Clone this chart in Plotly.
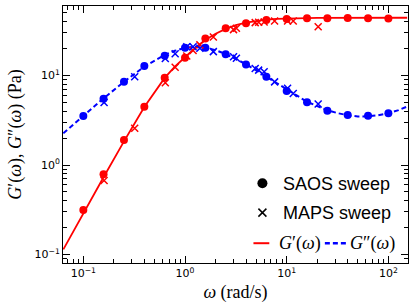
import plotly.graph_objects as go

# ---- data ----
omega_saos = [0.1, 0.158, 0.251, 0.398, 0.631, 1.0, 1.585, 2.512, 3.981, 6.31,
              10.0, 15.85, 25.12, 39.81, 63.1, 100.0]
gp_saos = [0.314, 0.787, 1.90, 4.48, 9.45, 15.8, 26.0, 33.7, 38.3, 41.7,
           42.8, 43.6, 43.6, 43.9, 43.6, 43.3]
gpp_saos = [3.53, 5.5, 8.53, 12.8, 16.6, 20.5, 20.5, 17.3, 13.3, 9.7,
            6.71, 5.02, 4.04, 3.62, 3.56, 3.78]

omega_maps = [0.16, 0.32, 0.64, 0.80, 1.04, 1.2, 1.4, 1.9, 3.0, 3.2,
              4.9, 5.3, 6.0, 7.6, 10.2, 11.6, 20.4]
gp_maps = [0.67, 2.57, 8.3, 12.4, 16.5, 19.0, 22.0, 27.0, 32.6, 33.7,
           39.0, 39.4, 39.7, 40.6, 40.6, 40.6, 35.1]
gpp_maps = [5.0, 9.7, 15.5, 17.5, 21.0, 21.0, 20.2, 18.5, 16.2, 15.6,
            12.0, 11.5, 11.0, 8.5, 7.2, 6.3, 4.8]

omega_fit = [0.0636, 0.1, 0.158, 0.251, 0.398, 0.631, 0.794, 1.0, 1.26, 1.58, 2.0,
             2.51, 3.16, 3.98, 5.01, 6.31, 7.94, 10.0, 12.6, 15.8, 20.0, 25.1,
             31.6, 39.8, 50.1, 63.1, 79.4, 100.0, 126.0, 153.0]
gp_fit = [0.114, 0.29, 0.73, 1.84, 4.45, 9.4, 12.6, 16.0, 20.4, 25.0, 29.3,
          33.2, 36.6, 39.0, 40.9, 42.1, 42.9, 43.4, 43.7, 43.9, 44.0, 44.1,
          44.2, 44.2, 44.2, 44.2, 44.2, 44.2, 44.2, 44.2]
gpp_fit = [2.26, 3.55, 5.55, 8.5, 12.6, 17.0, 18.9, 20.4, 21.0, 20.5, 19.2,
           17.4, 15.4, 13.4, 11.4, 9.7, 8.2, 6.9, 5.9, 5.1, 4.55, 4.1,
           3.8, 3.6, 3.48, 3.5, 3.6, 3.8, 4.1, 4.5]

x_major = [0.1, 1, 10, 100]
x_major_text = ["10<sup>\u22121</sup>", "10<sup>0</sup>", "10<sup>1</sup>", "10<sup>2</sup>"]
y_major = [0.1, 1, 10]
y_major_text = ["10<sup>\u22121</sup>", "10<sup>0</sup>", "10<sup>1</sup>"]

RED = "#ff0000"
BLUE = "#0000ff"

minor_x = [m * 10.0 ** e for e in range(-2, 3) for m in range(2, 10)]
minor_y = [m * 10.0 ** e for e in range(-2, 2) for m in range(2, 10)]

fig = go.Figure()

fig.add_trace(go.Scatter(x=omega_fit, y=gp_fit, mode="lines",
                         line=dict(color=RED, width=1.8)))
fig.add_trace(go.Scatter(x=omega_fit, y=gpp_fit, mode="lines",
                         line=dict(color=BLUE, width=2, dash="5px,3px")))
fig.add_trace(go.Scatter(x=omega_saos, y=gp_saos, mode="markers",
                         marker=dict(color=RED, size=8, symbol="circle")))
fig.add_trace(go.Scatter(x=omega_saos, y=gpp_saos, mode="markers",
                         marker=dict(color=BLUE, size=8, symbol="circle")))
fig.add_trace(go.Scatter(x=omega_maps, y=gp_maps, mode="markers",
                         marker=dict(color=RED, size=7, symbol="x-thin",
                                     line=dict(color=RED, width=1.5))))
fig.add_trace(go.Scatter(x=omega_maps, y=gpp_maps, mode="markers",
                         marker=dict(color=BLUE, size=7, symbol="x-thin",
                                     line=dict(color=BLUE, width=1.5))))

# ---- hand-built legend on an overlay axis (0..1 over the plot area) ----
fig.add_trace(go.Scatter(x=[0.578], y=[0.310], mode="markers", xaxis="x2", yaxis="y2",
                         marker=dict(color="black", size=10, symbol="circle")))
fig.add_trace(go.Scatter(x=[0.578], y=[0.196], mode="markers", xaxis="x2", yaxis="y2",
                         marker=dict(color="black", size=8, symbol="x-thin",
                                     line=dict(color="black", width=1.5))))
fig.add_trace(go.Scatter(x=[0.552, 0.598], y=[0.077, 0.077], mode="lines",
                         xaxis="x2", yaxis="y2", line=dict(color=RED, width=2)))
fig.add_trace(go.Scatter(x=[0.759, 0.822], y=[0.077, 0.077], mode="lines",
                         xaxis="x2", yaxis="y2",
                         line=dict(color=BLUE, width=2.5, dash="5px,3px")))

leg_font = dict(family="Liberation Sans, Arial, sans-serif", size=18, color="black")
math_font = dict(family="Liberation Serif, Times New Roman, serif", size=18, color="black")
fig.add_annotation(x=0.632, y=0.307, xref="paper", yref="paper", text="SAOS sweep",
                   showarrow=False, xanchor="left", yanchor="middle", font=leg_font)
fig.add_annotation(x=0.632, y=0.196, xref="paper", yref="paper", text="MAPS sweep",
                   showarrow=False, xanchor="left", yanchor="middle", font=leg_font)
fig.add_annotation(x=0.620, y=0.074, xref="paper", yref="paper",
                   text="<i>G</i>\u2032(<i>\u03c9</i>)",
                   showarrow=False, xanchor="left", yanchor="middle", font=math_font)
fig.add_annotation(x=0.826, y=0.074, xref="paper", yref="paper",
                   text="<i>G</i>\u2033(<i>\u03c9</i>)",
                   showarrow=False, xanchor="left", yanchor="middle", font=math_font)

tick_font = dict(family="DejaVu Sans, sans-serif", size=11, color="black")
title_font = dict(family="Liberation Serif, Times New Roman, serif", size=18, color="black")

fig.update_layout(
    width=415, height=307,
    margin=dict(l=63, r=7, t=6, b=44),
    paper_bgcolor="white", plot_bgcolor="white",
    showlegend=False,
    xaxis=dict(type="log", range=[-1.2, 2.193],
               tickvals=x_major, ticktext=x_major_text, tickfont=tick_font,
               ticks="inside", ticklen=7, tickwidth=1, tickcolor="black",
               showline=True, linecolor="black", linewidth=1, mirror="allticks",
               showgrid=False, zeroline=False,
               minor=dict(ticks="inside", ticklen=4, tickwidth=1, tickcolor="black",
                          tickvals=minor_x, showgrid=False),
               title=dict(text="<i>\u03c9</i> (rad/s)", font=title_font, standoff=6)),
    yaxis=dict(type="log", range=[-1.095, 1.777],
               tickvals=y_major, ticktext=y_major_text, tickfont=tick_font,
               ticks="inside", ticklen=7, tickwidth=1, tickcolor="black",
               showline=True, linecolor="black", linewidth=1, mirror="allticks",
               showgrid=False, zeroline=False,
               minor=dict(ticks="inside", ticklen=4, tickwidth=1, tickcolor="black",
                          tickvals=minor_y, showgrid=False),
               title=dict(text="<i>G</i>\u2032(<i>\u03c9</i>), <i>G</i>\u2033(<i>\u03c9</i>) (Pa)",
                          font=title_font, standoff=8)),
    xaxis2=dict(overlaying="x", range=[0, 1], visible=False, fixedrange=True),
    yaxis2=dict(overlaying="y", range=[0, 1], visible=False, fixedrange=True),
)

fig.write_html("out.html", config={"displayModeBar": False},
               post_script="document.body.style.margin='0';")
